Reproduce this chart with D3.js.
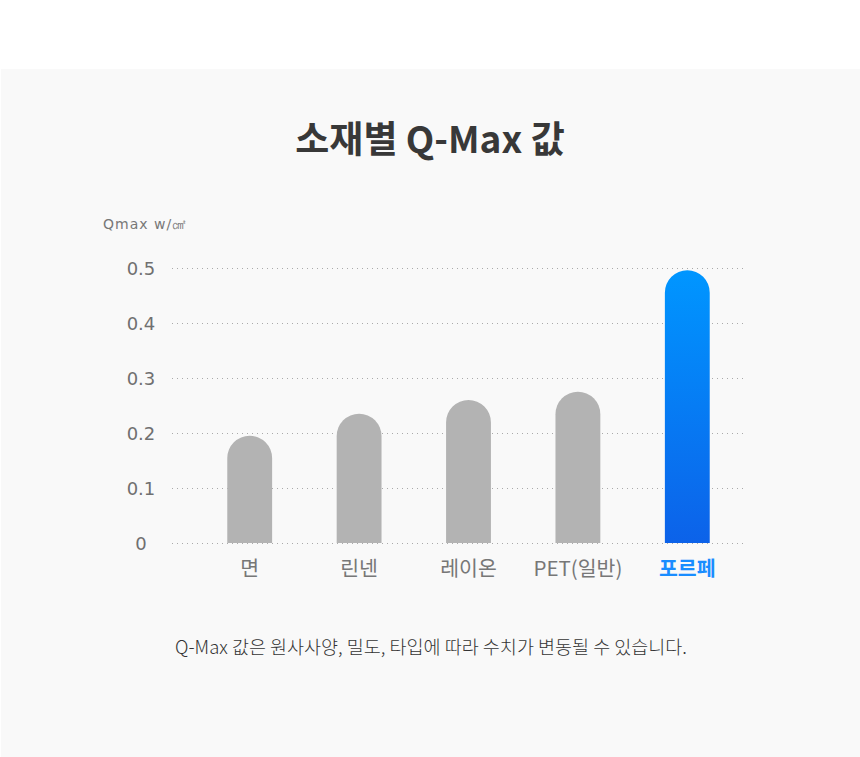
<!DOCTYPE html>
<html>
<head>
<meta charset="utf-8">
<script src="https://cdn.jsdelivr.net/npm/d3@7"></script>
<style>
  html, body { margin: 0; padding: 0; background: #fff; }
  svg { display: block; }
</style>
</head>
<body>
<svg id="chart" width="860" height="757"></svg>
<script>
// materials and their Q-Max values
var categories = ["면", "린넨", "레이온", "PET(일반)", "포르페"];
var qmaxValues = [0.195, 0.235, 0.26, 0.275, 0.496];
var yTicks = [0, 0.1, 0.2, 0.3, 0.4, 0.5];
var yTickLabels = ["0", "0.1", "0.2", "0.3", "0.4", "0.5"];

var data = categories.map(function (c, i) { return { name: c, val: qmaxValues[i] }; });
var highlight = "포르페";

var svg = d3.select("#chart");
var font = "'Noto Sans CJK KR', 'Noto Sans', sans-serif";

// light panel behind the chart
svg.append("rect").attr("x", 1).attr("y", 69).attr("width", 859).attr("height", 688).attr("fill", "#f9f9f9");

var defs = svg.append("defs");
var grad = defs.append("linearGradient").attr("id", "blueGrad")
  .attr("x1", 0).attr("y1", 0).attr("x2", 0).attr("y2", 1);
grad.append("stop").attr("offset", "0%").attr("stop-color", "#0096ff");
grad.append("stop").attr("offset", "100%").attr("stop-color", "#0c62e9");

var x = d3.scaleBand()
  .domain(categories)
  .range([195, 742])
  .paddingInner(0.59)
  .paddingOuter(0.295);

var y = d3.scaleLinear()
  .domain([0, 0.5])
  .range([543, 268]);

// title
svg.append("text")
  .attr("x", 430).attr("y", 153)
  .attr("text-anchor", "middle")
  .attr("font-family", font).attr("font-weight", 600).attr("font-size", 37)
  .attr("fill", "#383838")
  .text("소재별 Q-Max 값");

// unit label
svg.append("text")
  .attr("x", 103).attr("y", 229)
  .attr("font-family", "'DejaVu Sans', sans-serif").attr("font-size", 14)
  .attr("letter-spacing", 1)
  .attr("fill", "#777")
  .text("Qmax w/㎠");

// dotted gridlines
svg.append("g").selectAll("line")
  .data(yTicks)
  .join("line")
  .attr("x1", 172).attr("x2", 746)
  .attr("y1", function (d) { return y(d) + 0.5; })
  .attr("y2", function (d) { return y(d) + 0.5; })
  .attr("stroke", "#aaa").attr("stroke-width", 1)
  .attr("stroke-dasharray", "1,4");

// y tick labels
svg.append("g").selectAll("text")
  .data(yTicks)
  .join("text")
  .attr("x", 141)
  .attr("y", function (d) { return y(d) + 7; })
  .attr("text-anchor", "middle")
  .attr("font-family", "'DejaVu Sans', sans-serif").attr("font-size", 18)
  .attr("fill", "#707070")
  .text(function (d, i) { return yTickLabels[i]; });

// bars with fully rounded tops
function barPath(d) {
  var w = x.bandwidth(), r = w / 2;
  var x0 = x(d.name), y0 = y(d.val), yb = y(0);
  return "M" + x0 + "," + yb +
    "V" + (y0 + r) +
    "A" + r + "," + r + " 0 0 1 " + (x0 + w) + "," + (y0 + r) +
    "V" + yb + "Z";
}

svg.append("g").selectAll("path")
  .data(data)
  .join("path")
  .attr("d", barPath)
  .attr("fill", function (d) { return d.name === highlight ? "url(#blueGrad)" : "#b3b3b3"; });

// category labels
svg.append("g").selectAll("text")
  .data(data)
  .join("text")
  .attr("x", function (d) { return x(d.name) + x.bandwidth() / 2; })
  .attr("y", 576)
  .attr("text-anchor", "middle")
  .attr("font-family", font).attr("font-size", 20.5)
  .attr("font-weight", function (d) { return d.name === highlight ? 700 : 400; })
  .attr("fill", function (d) { return d.name === highlight ? "#1a8dff" : "#777"; })
  .text(function (d) { return d.name; });

// footnote
svg.append("text")
  .attr("x", 431).attr("y", 654)
  .attr("text-anchor", "middle")
  .attr("font-family", font).attr("font-size", 18.5).attr("font-weight", 300)
  .attr("fill", "#333")
  .text("Q-Max 값은 원사사양, 밀도, 타입에 따라 수치가 변동될 수 있습니다.");
</script>
</body>
</html>
